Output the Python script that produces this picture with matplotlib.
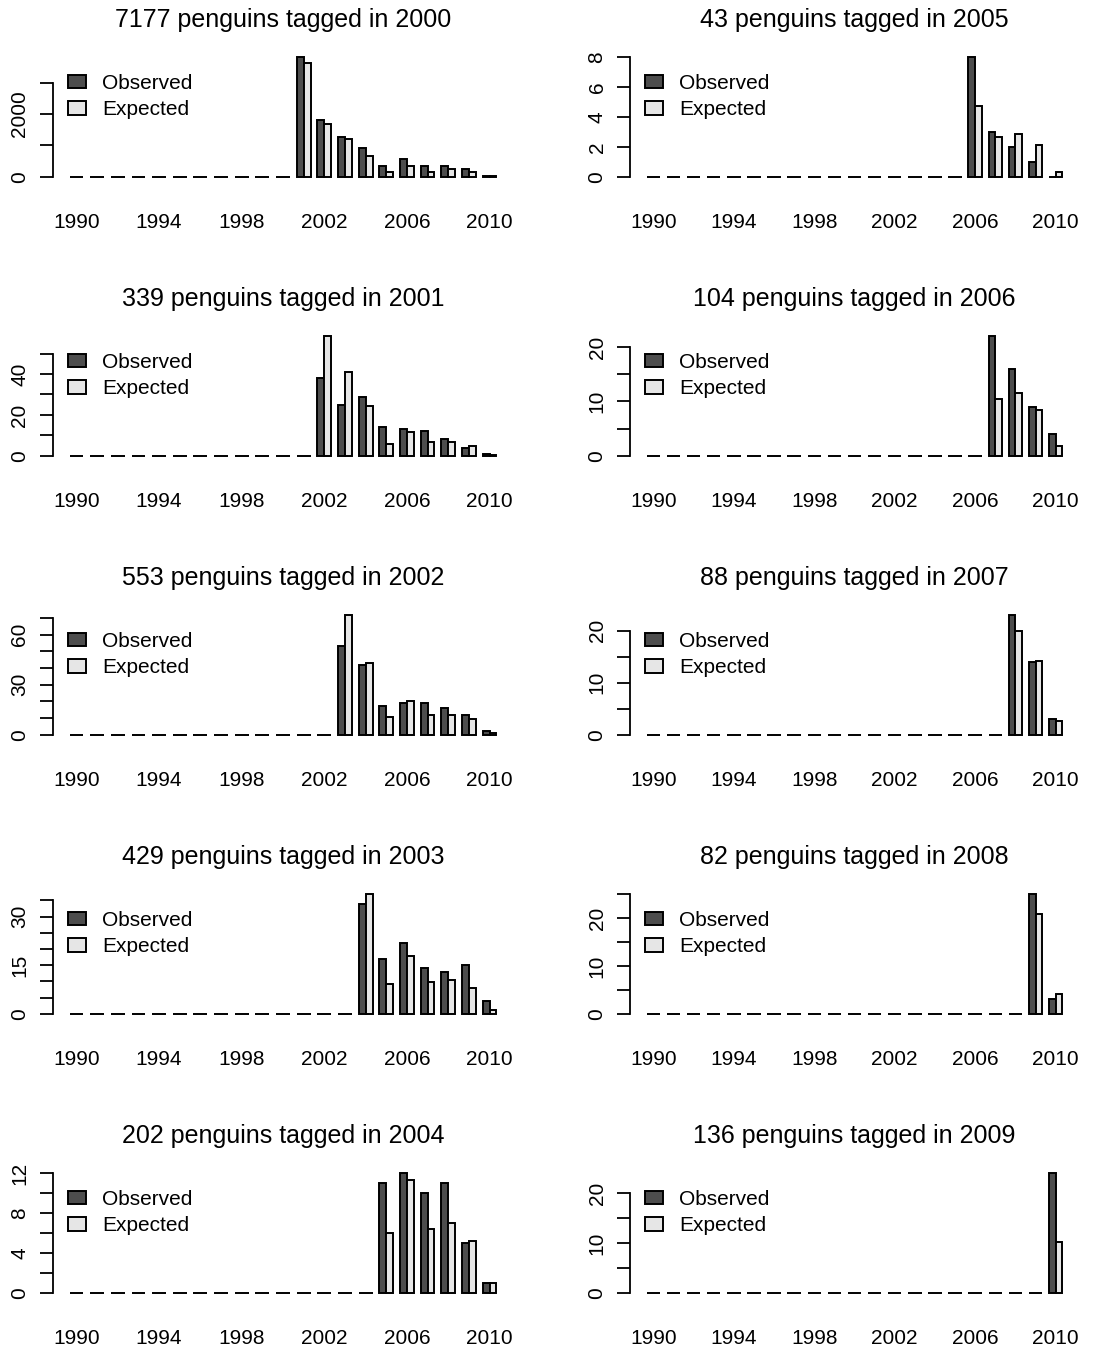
import numpy as np
import matplotlib.pyplot as plt
from matplotlib.transforms import blended_transform_factory

plt.rcParams['font.family'] = ['Liberation Sans', 'DejaVu Sans']

# recapture years shown on every panel
years = list(range(1990, 2011))
year_labels = [1990, 1994, 1998, 2002, 2006, 2010]

# tagging cohorts (left column 2000-2004, right column 2005-2009)
tag_years = [2000, 2001, 2002, 2003, 2004, 2005, 2006, 2007, 2008, 2009]
n_tagged = [7177, 339, 553, 429, 202, 43, 104, 88, 82, 136]

# observed / expected recaptures per year 1990..2010
obs_2000 = [0] * 11 + [3810, 1810, 1255, 925, 350, 550, 350, 350, 235, 35]
exp_2000 = [0] * 11 + [3620, 1680, 1190, 670, 160, 350, 160, 235, 160, 20]
obs_2001 = [0] * 12 + [38, 25, 29, 14, 13, 12, 8, 4, 1]
exp_2001 = [0] * 12 + [58.5, 41, 24.5, 5.7, 11.7, 6.7, 6.7, 4.7, 0.5]
obs_2002 = [0] * 13 + [53, 42, 17, 19, 19, 16, 12, 2]
exp_2002 = [0] * 13 + [71.6, 42.9, 10.7, 20.3, 11.7, 11.7, 9.3, 1.2]
obs_2003 = [0] * 14 + [34, 17, 22, 14, 13, 15, 4]
exp_2003 = [0] * 14 + [36.9, 9.3, 17.8, 9.8, 10.4, 7.9, 1.2]
obs_2004 = [0] * 15 + [11, 12, 10, 11, 5, 1]
exp_2004 = [0] * 15 + [6.0, 11.3, 6.4, 7.0, 5.2, 1.0]
obs_2005 = [0] * 16 + [8, 3, 2, 1, 0]
exp_2005 = [0] * 16 + [4.76, 2.64, 2.86, 2.1, 0.33]
obs_2006 = [0] * 17 + [22, 16, 9, 4]
exp_2006 = [0] * 17 + [10.5, 11.6, 8.4, 1.8]
obs_2007 = [0] * 18 + [23, 14, 3]
exp_2007 = [0] * 18 + [19.9, 14.1, 2.6]
obs_2008 = [0] * 19 + [25, 3]
exp_2008 = [0] * 19 + [20.8, 4.2]
obs_2009 = [0] * 20 + [24]
exp_2009 = [0] * 20 + [10.1]

# y axis ticks: top tick, tick step, label step
ytick_top = [3000, 50, 70, 35, 12, 8, 20, 20, 25, 20]
ytick_step = [1000, 10, 10, 5, 2, 2, 5, 5, 5, 5]
ylabel_step = [2000, 20, 30, 15, 4, 2, 10, 10, 10, 10]

observed = [obs_2000, obs_2001, obs_2002, obs_2003, obs_2004,
            obs_2005, obs_2006, obs_2007, obs_2008, obs_2009]
expected = [exp_2000, exp_2001, exp_2002, exp_2003, exp_2004,
            exp_2005, exp_2006, exp_2007, exp_2008, exp_2009]

W, H = 1114, 1349
fig = plt.figure(figsize=(W / 100, H / 100), dpi=100)

col_left = [52.5, 630]
col_width = [461, 449]
row_top = 52.5
row_step = 279
ax_h = 129

idx = np.arange(len(years))
obs_x = 1 + 3 * idx
exp_x = 2 + 3 * idx
pad_x = 0.04 * 62

for k in range(len(tag_years)):
    col, row = k // 5, k % 5
    left = col_left[col]
    top = row_top + row * row_step
    ax = fig.add_axes([left / W, 1 - (top + ax_h) / H, col_width[col] / W, ax_h / H])

    ax.bar(obs_x, observed[k], width=1, align='edge', color='#4D4D4D',
           edgecolor='black', linewidth=1.4, label='Observed')
    ax.bar(exp_x, expected[k], width=1, align='edge', color='#E6E6E6',
           edgecolor='black', linewidth=1.4, label='Expected')

    m = max(max(observed[k]), max(expected[k]))
    ax.set_ylim(-0.04 * m, 1.04 * m)
    ax.set_xlim(1 - pad_x, 63 + pad_x)

    # R style axes
    for s in ['top', 'right', 'bottom']:
        ax.spines[s].set_visible(False)
    ax.spines['left'].set_bounds(0, ytick_top[k])
    ax.spines['left'].set_linewidth(1.3)
    ticks = np.arange(0, ytick_top[k] + ytick_step[k] / 2, ytick_step[k])
    ax.set_yticks(ticks)
    ax.set_yticklabels([str(int(t)) if t % ylabel_step[k] == 0 else '' for t in ticks])
    ax.tick_params(axis='y', length=9.4, width=1.3, pad=7.5, labelsize=15,
                   labelrotation=90)
    for lab in ax.get_yticklabels():
        lab.set_va('center')

    ax.set_xticks([2 + 3 * years.index(y) for y in year_labels])
    ax.set_xticklabels([str(y) for y in year_labels])
    ax.tick_params(axis='x', length=0, pad=23, labelsize=15)

    ax.set_title('%d penguins tagged in %d' % (n_tagged[k], tag_years[k]),
                 fontsize=18, pad=18.4)

    trans = blended_transform_factory(ax.transData, ax.transAxes)
    ax.legend(loc='upper left', bbox_to_anchor=(0.7, 0.835), bbox_transform=trans,
              frameon=False, fontsize=15, handlelength=0.87, handleheight=0.6,
              handletextpad=0.8, labelspacing=0.36, borderpad=0, borderaxespad=0)

fig.savefig('out.png', dpi=100)
